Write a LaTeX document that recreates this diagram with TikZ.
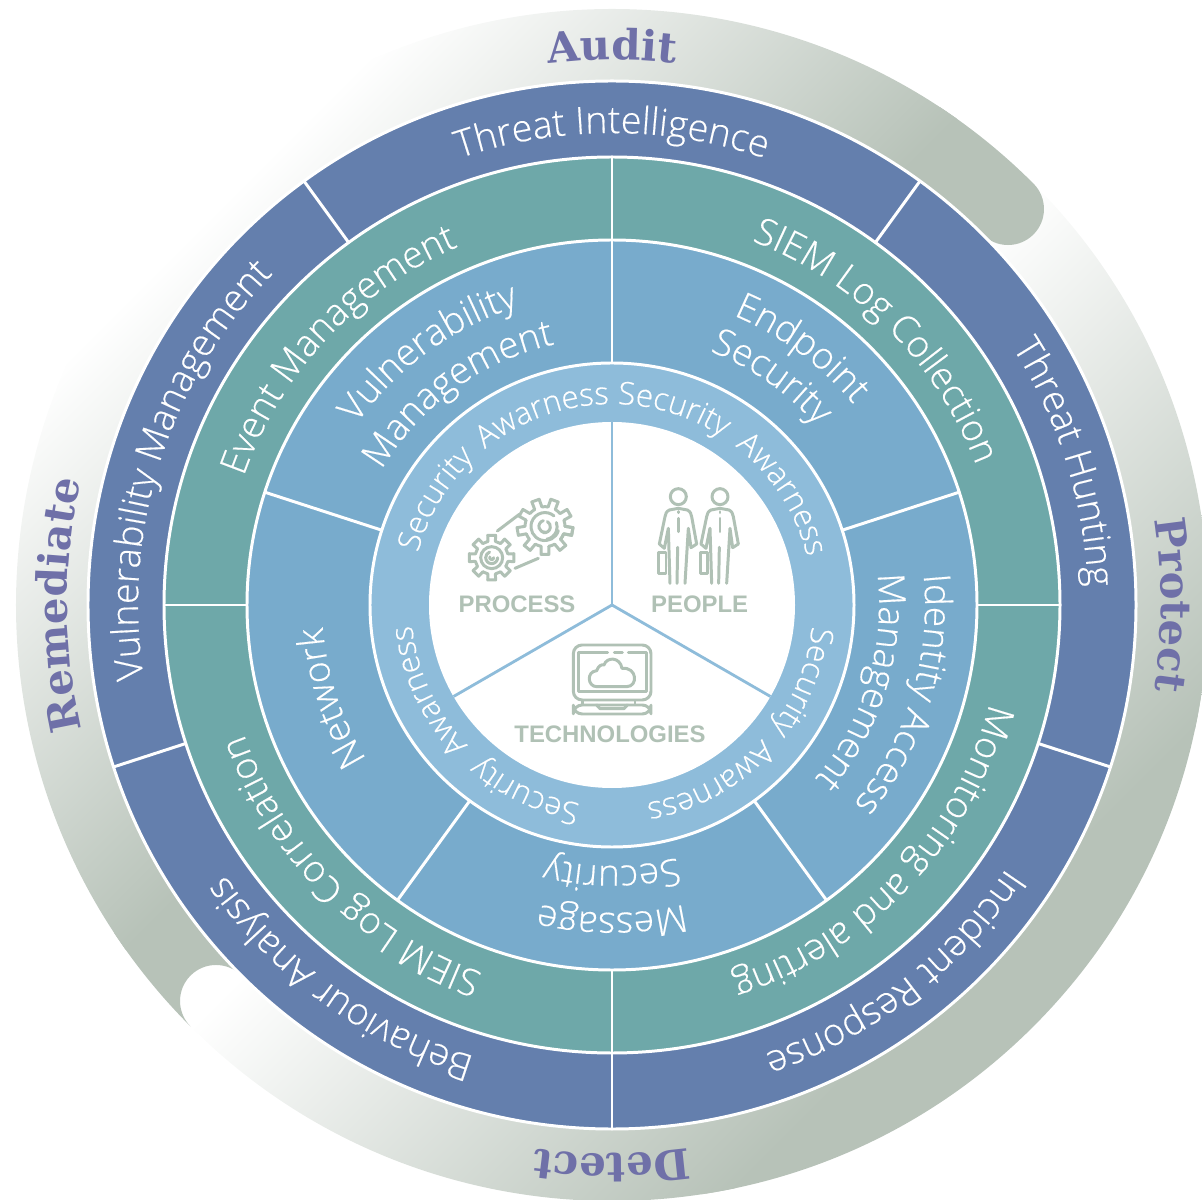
\documentclass[tikz,border=0pt]{standalone}
\usepackage{fontspec}
\setmainfont{Liberation Sans}
\newfontfamily\slabfont{DejaVu Serif}
\newfontfamily\lightfont[FakeBold=0.4]{Open Sans Light}
\usetikzlibrary{decorations.text}
\definecolor{ringgray}{HTML}{B7C2B8}
\definecolor{darkseg}{HTML}{647FAD}
\definecolor{tealseg}{HTML}{6EA8A9}
\definecolor{midseg}{HTML}{78ABCC}
\definecolor{lightseg}{HTML}{8EBCDA}
\definecolor{icongray}{HTML}{B0C1B5}
\definecolor{slabcol}{HTML}{6F70A8}
\newcommand{\fD}{\lightfont\fontsize{21.4pt}{24pt}\selectfont\color{white}}
\newcommand{\fT}{\lightfont\fontsize{21.2pt}{24pt}\selectfont\color{white}}
\newcommand{\fM}{\lightfont\fontsize{21.1pt}{24pt}\selectfont\color{white}}
\newcommand{\fL}{\lightfont\fontsize{17.8pt}{20pt}\selectfont\color{white}}
\newcommand{\fS}{\fontsize{23.8pt}{26pt}\selectfont\slabfont\bfseries\color{slabcol}}
\newcommand{\curvetext}[5]{%
  \path[decorate,decoration={text along path,text align=center,text={|#4|#5}}]
    ({#1+#3}:#2) arc[start angle={#1+#3},end angle={#1-#3},radius=#2];}
\newcommand{\pathA}{(225:596) arc[start angle=225,end angle=405,radius=596]
  arc[start angle=45,end angle=-135,radius=36]
  arc[start angle=45,end angle=-135,radius=524]
  arc[start angle=45,end angle=225,radius=36] -- cycle}
\newcommand{\pathB}{(45:596) arc[start angle=45,end angle=225,radius=596]
  arc[start angle=225,end angle=45,radius=36]
  arc[start angle=225,end angle=45,radius=524]
  arc[start angle=225,end angle=405,radius=36] -- cycle}
\tikzset{
  ringdisc/.style={draw=white,line width=1.7pt},
  sepline/.style={draw=white,line width=1.7pt},
  spoke/.style={draw=lightseg,line width=1.6pt},
  icon/.style={draw=icongray,line width=1.7pt,line cap=round,line join=round},
  pillar/.style={text=icongray,font=\fontsize{13.6pt}{16pt}\selectfont\bfseries,anchor=base,inner sep=0pt}
}
\begin{document}
\begin{tikzpicture}[x=0.02cm,y=0.02cm]
\useasboundingbox (-612,605) rectangle (590,-594);
\clip (-612,605) rectangle (590,-594);
% outer gradient ring
\begin{scope}
  \clip \pathA;
  \begin{scope}[transform canvas={rotate=-45}]
    \fill[ringgray] (480,-800) rectangle (800,800);
    \fill[white] (-800,-800) rectangle (10,800);
    \shade[left color=white,right color=ringgray] (0,-800) rectangle (500,800);
  \end{scope}
\end{scope}
\begin{scope}
  \clip \pathB;
  \begin{scope}[transform canvas={rotate=-45}]
    \fill[white] (-800,-800) rectangle (-550,800);
    \fill[ringgray] (-120,-800) rectangle (800,800);
    \shade[left color=white,right color=ringgray] (-560,-800) rectangle (-100,800);
  \end{scope}
\end{scope}
% discs and separators
\fill[darkseg,ringdisc] (0,0) circle[radius=524];
\foreach \a in {54,126,198,270,342} \draw[sepline] (\a:448) -- (\a:524);
\fill[tealseg,ringdisc] (0,0) circle[radius=448];
\foreach \a in {0,90,180,270} \draw[sepline] (\a:365) -- (\a:448);
\fill[midseg,ringdisc] (0,0) circle[radius=365];
\foreach \a in {18,90,162,234,306} \draw[sepline] (\a:242) -- (\a:365);
\fill[lightseg,ringdisc] (0,0) circle[radius=242];
\fill[white] (0,0) circle[radius=183];
\foreach \a in {90,210,330} \draw[spoke] (0,0) -- (\a:183);
% outer words
\curvetext{90}{545}{30}{\fS}{Audit}
\curvetext{0}{549}{30}{\fS}{Protect}
\curvetext{-90}{549}{30}{\fS}{Detect}
\curvetext{180}{545}{40}{\fS}{Remediate}
% dark ring
\curvetext{90}{472}{40}{\fD}{Threat Intelligence}
\curvetext{17.5}{476}{40}{\fD}{Threat Hunting}
\curvetext{-52.5}{474}{40}{\fD}{Incident Response}
\curvetext{-126}{472}{40}{\fD}{Behaviour Analysis}
\curvetext{162.3}{474}{50}{\fD}{Vulnerability Management}
% teal ring
\curvetext{45}{390}{40}{\fT}{SIEM Log Collection}
\curvetext{-43.4}{390}{40}{\fT}{Monitoring and alerting}
\curvetext{-135}{390}{40}{\fT}{SIEM Log Correlation}
\curvetext{137}{390}{40}{\fT}{Event Management}
% mid ring
\curvetext{126}{313}{40}{\fM}{Vulnerability}
\curvetext{126}{267}{40}{\fM}{Management}
\curvetext{53.5}{314}{40}{\fM}{Endpoint}
\curvetext{55}{272}{40}{\fM}{Security}
\curvetext{-17}{313}{40}{\fM}{Identity Access}
\curvetext{-17}{267}{40}{\fM}{Management}
\curvetext{-90}{308}{40}{\fM}{Message}
\curvetext{-90}{261}{40}{\fM}{Security}
\curvetext{198.3}{290}{40}{\fM}{Network}
% light ring
\curvetext{72.5}{201}{30}{\fL}{Security}
\curvetext{33}{201}{30}{\fL}{Awarness}
\curvetext{149}{201}{30}{\fL}{Security}
\curvetext{110}{201}{30}{\fL}{Awarness}
\curvetext{-22}{201}{30}{\fL}{Security}
\curvetext{-61}{201}{30}{\fL}{Awarness}
\curvetext{-115}{201}{30}{\fL}{Security}
\curvetext{-155}{201}{30}{\fL}{Awarness}
% icons, drawn in coordinates of the 3x crop
\begin{scope}[shift={(-612,605)},yscale=-1,shift={(420,460)},scale=0.33333]
  % small gear
  \begin{scope}[shift={(215,293)}]
    \foreach \a in {0,45,...,315}
      \draw[icon] ({\a-13}:50) -- ({\a-10}:68) -- ({\a+10}:68) -- ({\a+13}:50)
        arc[start angle={\a+13},end angle={\a+32},radius=50];
    \draw[icon] (0,0) circle[radius=33];
    \draw[icon] (18,0) arc[start angle=0,end angle=250,radius=18];
    \draw[icon] (6,0) arc[start angle=0,end angle=200,radius=6];
  \end{scope}
  % large gear
  \begin{scope}[shift={(375,200)}]
    \foreach \a in {10,50,...,370}
      \draw[icon] ({\a-11}:60) -- ({\a-8}:84) -- ({\a+8}:84) -- ({\a+11}:60)
        arc[start angle={\a+11},end angle={\a+29},radius=60];
    \draw[icon] (40,12) arc[start angle=17,end angle=310,radius=42];
    \draw[icon] (5,38) arc[start angle=80,end angle=-20,radius=38];
    \draw[icon] (-5,-18) arc[start angle=-105,end angle=-280,radius=18];
    \draw[icon] (-5,18) arc[start angle=100,end angle=-60,radius=18];
  \end{scope}
  \draw[icon] (232,213) -- (298,163);
  \draw[icon] (285,325) -- (355,295);
  % two people
  \foreach \dx in {0,125}{
    \begin{scope}[xshift=\dx*0.02cm]
      \draw[icon] (775,110) circle[radius=24];
      \draw[icon] (775,145) -- (748,150) .. controls (738,155) and (737,162) .. (735,170)
        -- (718,252) -- (733,265) -- (745,205) -- (750,370);
      \draw[icon] (775,145) -- (802,150) .. controls (812,155) and (813,162) .. (815,170)
        -- (830,252) -- (813,263) -- (805,205) -- (795,370);
      \draw[icon] (771,370) -- (773,262);
      \draw[icon] (775,175) -- (775,215);
      \draw[icon] (775,155) -- (775,158);
      \draw[icon] (716,278) rectangle (738,340);
    \end{scope}
  }
  % laptop
  \draw[icon,rounded corners=5pt] (460,720) -- (460,555) -- (693,555) -- (693,720) -- cycle;
  \draw[icon] (563,578) -- (475,578) -- (475,695) -- (680,695) -- (680,578) -- (625,578);
  \draw[icon] (583,578) -- (607,578);
  \draw[icon,rounded corners=5pt] (460,735) -- (460,762) -- (693,762) -- (693,735) -- cycle;
  \draw[icon] (530,735) -- (540,746) -- (612,746) -- (622,735);
  \draw[icon] (487,722) -- (487,733);
  \draw[icon] (645,722) -- (645,733);
  \draw[icon] (530,680) .. controls (503,680) and (498,635) .. (530,632)
    .. controls (535,618) and (545,612) .. (552,615)
    .. controls (560,590) and (600,590) .. (606,625)
    .. controls (652,620) and (655,680) .. (620,680) -- cycle;
\end{scope}
\node[pillar] (process) at (-95,-7.7) {PROCESS};
\node[pillar] (people) at (87.7,-7.7) {PEOPLE};
\node[pillar] (tech) at (-2,-137) {TECHNOLOGIES};
\end{tikzpicture}
\end{document}
